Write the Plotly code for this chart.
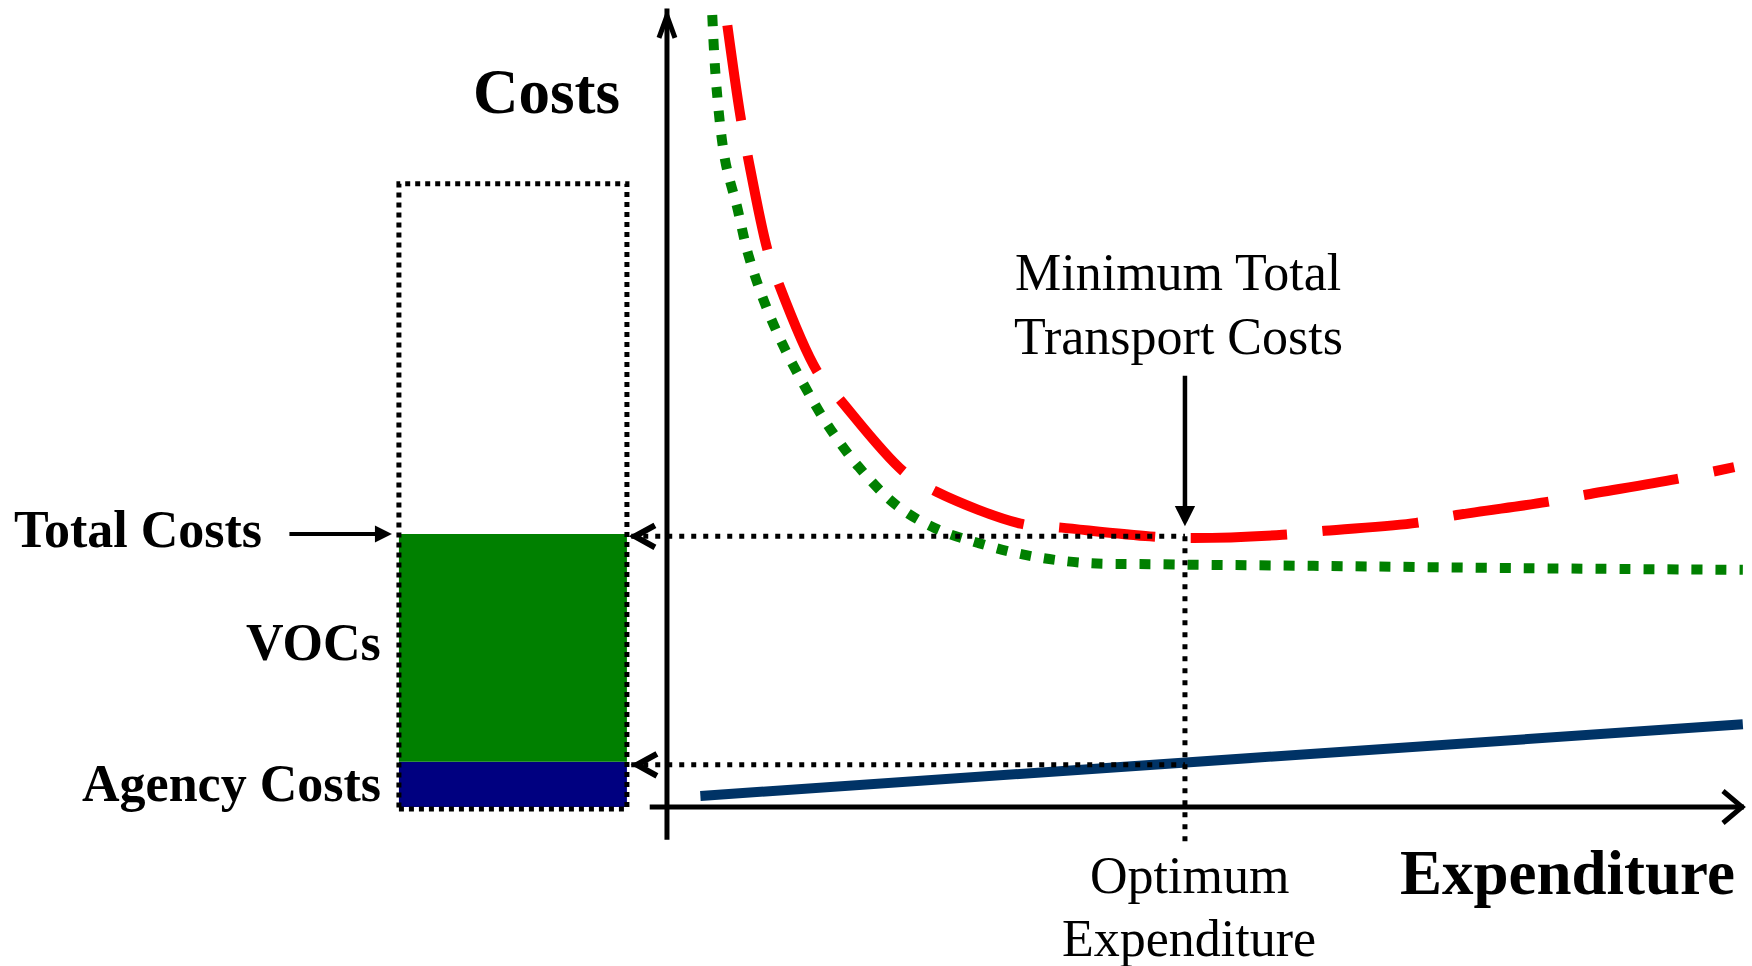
import plotly.graph_objects as go

# ---------------- data (arbitrary units: expenditure 0-100, costs 0-100) ----------------
total_expenditure = [5.6, 6.8, 7.5, 9.3, 10.4, 13.9, 16.1, 21.9, 25.0, 32.8, 36.6, 44.8,
                     48.7, 57.1, 61.0, 69.5, 72.9, 81.5, 85.1, 93.6, 99.0]
total_costs = [98.2, 86.9, 81.7, 70.1, 65.6, 54.8, 51.1, 42.2, 39.6, 35.6, 35.1, 34.0,
               33.8, 34.2, 34.7, 35.7, 36.6, 38.3, 39.2, 41.2, 42.7]

voc_expenditure = [4.2, 4.6, 5.4, 6.5, 7.5, 8.9, 10.7, 12.8, 14.9, 17.8, 21.3, 24.9,
                   28.8, 33.1, 38.4, 45.5, 60.0, 80.0, 99.8]
voc_costs = [99.5, 90.3, 81.2, 75.4, 69.6, 63.9, 58.2, 52.8, 48.0, 42.7, 37.9, 35.0,
             33.2, 31.7, 30.7, 30.5, 30.3, 30.0, 29.8]

agency_expenditure = [3.1, 99.8]
agency_costs = [1.4, 10.4]

# breakdown bar at the optimum
bar_categories = ["Agency Costs", "VOCs"]
bar_values = [5.7, 28.6]
bar_colors = ["#000080", "#008000"]

OPT_EXPENDITURE = 48.05
OPT_TOTAL = 34.0
OPT_AGENCY = 5.3

# ---------------- layout geometry ----------------
W, H = 1752, 966
X_RANGE = [-61.87, 100.65]
Y_RANGE = [-19.97, 101.38]
BAR_X = -14.29
BAR_W = 21.15
BOX_LEFT = BAR_X - BAR_W / 2
BOX_RIGHT = BAR_X + BAR_W / 2
BOX_TOP = 78.3

FONT = "Liberation Serif, Times New Roman, serif"


def px(x):
    return x / W


def py(y):
    return 1 - y / H


fig = go.Figure()

# stacked breakdown bar
base = 0
for name, val, col in zip(bar_categories, bar_values, bar_colors):
    fig.add_trace(go.Bar(x=[BAR_X], y=[val], base=[base], width=[BAR_W], name=name,
                         marker=dict(color=col, line=dict(width=0)), hoverinfo="skip"))
    base += val

fig.add_trace(go.Scatter(x=agency_expenditure, y=agency_costs, mode="lines", name="Agency Costs",
                         line=dict(color="#003366", width=10)))
fig.add_trace(go.Scatter(x=voc_expenditure, y=voc_costs, mode="lines", name="VOCs",
                         line=dict(color="#008000", width=10, dash="11px,13px", shape="spline")))
fig.add_trace(go.Scatter(x=total_expenditure, y=total_costs, mode="lines", name="Total Costs",
                         line=dict(color="#FF0000", width=10, dash="96px,36px", shape="spline")))

bar_top = sum(bar_values)

shapes = [
    # dotted outline box
    dict(type="rect", x0=BOX_LEFT, x1=BOX_RIGHT, y0=-0.25, y1=BOX_TOP,
         line=dict(color="black", width=5, dash="5px,5px"), layer="above"),
    # dotted guide lines
    dict(type="line", x0=BOX_RIGHT + 0.4, x1=OPT_EXPENDITURE, y0=OPT_TOTAL, y1=OPT_TOTAL,
         line=dict(color="black", width=5, dash="5px,7px"), layer="above"),
    dict(type="line", x0=BOX_RIGHT + 0.4, x1=OPT_EXPENDITURE, y0=OPT_AGENCY, y1=OPT_AGENCY,
         line=dict(color="black", width=5, dash="5px,7px"), layer="above"),
    dict(type="line", x0=OPT_EXPENDITURE, x1=OPT_EXPENDITURE, y0=OPT_TOTAL, y1=-5.0,
         line=dict(color="black", width=5, dash="5px,7px"), layer="above"),
    # axes
    dict(type="line", x0=0, x1=0, y0=-4.1, y1=100.3,
         line=dict(color="black", width=5), layer="above"),
    dict(type="line", x0=-1.6, x1=99.9, y0=0, y1=0,
         line=dict(color="black", width=5), layer="above"),
    # axis arrow heads (open chevrons)
    dict(type="path", xsizemode="pixel", ysizemode="pixel", xanchor=0, yanchor=100.4,
         path="M-8,-30 L0,-8 L8,-30", line=dict(color="black", width=5), layer="above"),
    dict(type="path", xsizemode="pixel", ysizemode="pixel", xanchor=100.0, yanchor=0,
         path="M-22,16 L-3,0 L-22,-16", line=dict(color="black", width=5), layer="above"),
    # chevrons pointing at the box
    dict(type="path", xsizemode="pixel", ysizemode="pixel", xanchor=BOX_RIGHT, yanchor=OPT_TOTAL,
         path="M28,11 L8,0 L28,-11", line=dict(color="black", width=6), layer="above"),
    dict(type="path", xsizemode="pixel", ysizemode="pixel", xanchor=BOX_RIGHT, yanchor=OPT_AGENCY,
         path="M30,11 L10,0 L30,-11", line=dict(color="black", width=6), layer="above"),
]

annotations = [
    # arrows
    dict(x=BOX_LEFT, y=bar_top, xref="x", yref="y", text="", showarrow=True,
         ax=-111, ay=0, arrowhead=2, arrowsize=0.85, arrowwidth=4, arrowcolor="black", standoff=7),
    dict(x=OPT_EXPENDITURE, y=OPT_TOTAL, xref="x", yref="y", text="", showarrow=True,
         ax=0, ay=-162, arrowhead=2, arrowsize=0.9, arrowwidth=4.5, arrowcolor="black", standoff=10),
    # texts
    dict(x=px(622), y=py(92), xref="paper", yref="paper", text="<b>Costs</b>", showarrow=False,
         xanchor="right", yanchor="middle", font=dict(family=FONT, size=63, color="black")),
    dict(x=px(1737), y=py(873), xref="paper", yref="paper", text="<b>Expenditure</b>", showarrow=False,
         xanchor="right", yanchor="middle", font=dict(family=FONT, size=63, color="black")),
    dict(x=px(1178), y=py(272), xref="paper", yref="paper", text="Minimum Total", showarrow=False,
         xanchor="center", yanchor="middle", font=dict(family=FONT, size=52, color="black")),
    dict(x=px(1178), y=py(336), xref="paper", yref="paper", text="Transport Costs", showarrow=False,
         xanchor="center", yanchor="middle", font=dict(family=FONT, size=52, color="black")),
    dict(x=px(1189), y=py(875), xref="paper", yref="paper", text="Optimum", showarrow=False,
         xanchor="center", yanchor="middle", font=dict(family=FONT, size=52, color="black")),
    dict(x=px(1189), y=py(938), xref="paper", yref="paper", text="Expenditure", showarrow=False,
         xanchor="center", yanchor="middle", font=dict(family=FONT, size=52, color="black")),
    dict(x=px(12), y=py(529), xref="paper", yref="paper", text="<b>Total Costs</b>", showarrow=False,
         xanchor="left", yanchor="middle", font=dict(family=FONT, size=52, color="black")),
    dict(x=px(383), y=py(642), xref="paper", yref="paper", text="<b>VOCs</b>", showarrow=False,
         xanchor="right", yanchor="middle", font=dict(family=FONT, size=52, color="black")),
    dict(x=px(383), y=py(783), xref="paper", yref="paper", text="<b>Agency Costs</b>", showarrow=False,
         xanchor="right", yanchor="middle", font=dict(family=FONT, size=52, color="black")),
]

fig.update_layout(
    width=W, height=H,
    margin=dict(l=0, r=0, t=0, b=0, pad=0),
    paper_bgcolor="white", plot_bgcolor="white",
    showlegend=False,
    barmode="overlay",
    xaxis=dict(range=X_RANGE, visible=False, fixedrange=True),
    yaxis=dict(range=Y_RANGE, visible=False, fixedrange=True),
    shapes=shapes,
    annotations=annotations,
)

fig.write_html("out.html", config={"displayModeBar": False})
